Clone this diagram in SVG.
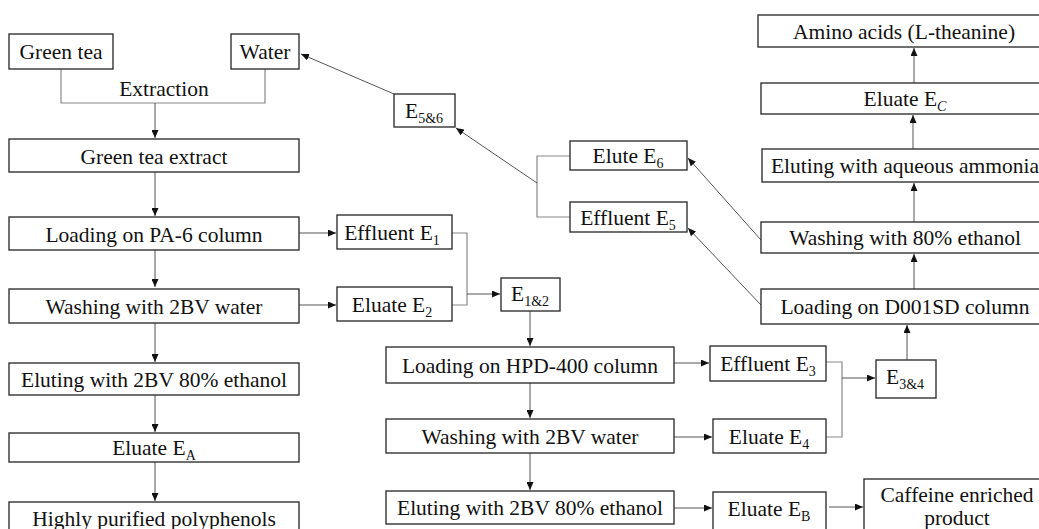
<svg xmlns="http://www.w3.org/2000/svg" width="1039" height="529" viewBox="0 0 1039 529">
<defs>
<marker id="ah" markerUnits="userSpaceOnUse" markerWidth="9" markerHeight="7" refX="8" refY="3.5" orient="auto">
<path d="M0,0 L8,3.5 L0,7 Z" fill="#111"/>
</marker>
</defs>
<style>
.box{fill:#fff;stroke:#333;stroke-width:1.4}
.t{font-family:"Liberation Serif","Times New Roman",serif;font-size:21.5px;fill:#111;text-anchor:middle}
.s{font-size:14px}
.c{fill:none;stroke:#888;stroke-width:1.2}
.a{fill:none;stroke:#555;stroke-width:1;marker-end:url(#ah)}
</style>
<rect width="1039" height="529" fill="#fff"/>
<g id="connectors">
<polyline class="c" points="61,69 61,103 265,103 265,69"/>
<line class="a" x1="155" y1="103" x2="155" y2="138"/>
<line class="a" x1="155" y1="172" x2="155" y2="216"/>
<line class="a" x1="155" y1="250" x2="155" y2="287"/>
<line class="a" x1="155" y1="323" x2="155" y2="362"/>
<line class="a" x1="155" y1="395" x2="155" y2="432"/>
<line class="a" x1="155" y1="462" x2="155" y2="501"/>
<line class="a" x1="299" y1="233" x2="336" y2="233"/>
<line class="a" x1="299" y1="305" x2="336" y2="305"/>
<polyline class="c" points="452,233 467,233 467,305 452,305"/>
<line class="a" x1="467" y1="294" x2="500" y2="294"/>
<line class="a" x1="530" y1="311" x2="530" y2="346"/>
<line class="a" x1="530" y1="383" x2="530" y2="418"/>
<line class="a" x1="530" y1="453" x2="530" y2="490"/>
<line class="a" x1="674" y1="363" x2="709" y2="363"/>
<line class="a" x1="674" y1="437" x2="712" y2="437"/>
<line class="a" x1="674" y1="508" x2="712" y2="508"/>
<polyline class="c" points="826,362 842,362 842,437 826,437"/>
<line class="a" x1="842" y1="378" x2="875" y2="378"/>
<line class="a" x1="907" y1="360" x2="907" y2="325"/>
<line class="a" x1="914" y1="289" x2="914" y2="254"/>
<line class="a" x1="914" y1="222" x2="914" y2="183"/>
<line class="a" x1="913" y1="149" x2="913" y2="115"/>
<line class="a" x1="914" y1="83" x2="914" y2="48"/>
<line class="a" x1="829" y1="507" x2="863" y2="507"/>
<line class="a" x1="761" y1="240" x2="688" y2="158"/>
<line class="a" x1="761" y1="305" x2="688" y2="228"/>
<polyline class="c" points="570,156 537,156 537,217 570,217"/>
<line class="a" x1="537" y1="183" x2="456" y2="128"/>
<line class="a" x1="394" y1="94" x2="301" y2="54"/>
</g>
<g id="n-greentea"><rect class="box" x="9" y="34" width="104" height="35"/><text class="t" x="61" y="59">Green tea</text></g>
<g id="n-water"><rect class="box" x="231" y="34" width="68" height="35"/><text class="t" x="265" y="59">Water</text></g>
<g id="n-extraction"><text class="t" x="164" y="96">Extraction</text></g>
<g id="n-extract"><rect class="box" x="9" y="139" width="290" height="33"/><text class="t" x="154" y="164">Green tea extract</text></g>
<g id="n-pa6"><rect class="box" x="9" y="217" width="290" height="33"/><text class="t" x="154" y="242">Loading on PA-6 column</text></g>
<g id="n-wash1"><rect class="box" x="9" y="289" width="290" height="34"/><text class="t" x="154" y="314">Washing with 2BV water</text></g>
<g id="n-elute1"><rect class="box" x="9" y="363" width="290" height="32"/><text class="t" x="154" y="387">Eluting with 2BV 80% ethanol</text></g>
<g id="n-ea"><rect class="box" x="9" y="433" width="290" height="29"/><text class="t" x="154" y="455">Eluate E<tspan class="s" dy="5">A</tspan></text></g>
<g id="n-poly"><rect class="box" x="9" y="502" width="290" height="40"/><text class="t" x="154" y="526">Highly purified polyphenols</text></g>
<g id="n-e1"><rect class="box" x="337" y="215" width="115" height="34"/><text class="t" x="392" y="240">Effluent E<tspan class="s" dy="5">1</tspan></text></g>
<g id="n-e2"><rect class="box" x="337" y="287" width="115" height="34"/><text class="t" x="392" y="312">Eluate E<tspan class="s" dy="5">2</tspan></text></g>
<g id="n-e12"><rect class="box" x="501" y="278" width="59" height="33"/><text class="t" x="530" y="301">E<tspan class="s" dy="5">1&amp;2</tspan></text></g>
<g id="n-hpd"><rect class="box" x="386" y="347" width="288" height="36"/><text class="t" x="530" y="373">Loading on HPD-400 column</text></g>
<g id="n-wash2"><rect class="box" x="386" y="419" width="288" height="34"/><text class="t" x="530" y="444">Washing with 2BV water</text></g>
<g id="n-elute2"><rect class="box" x="386" y="491" width="288" height="33"/><text class="t" x="530" y="515">Eluting with 2BV 80% ethanol</text></g>
<g id="n-e3"><rect class="box" x="710" y="346" width="116" height="35"/><text class="t" x="768" y="371">Effluent E<tspan class="s" dy="5">3</tspan></text></g>
<g id="n-e4"><rect class="box" x="713" y="419" width="113" height="34"/><text class="t" x="769" y="444">Eluate E<tspan class="s" dy="5">4</tspan></text></g>
<g id="n-eb"><rect class="box" x="713" y="492" width="113" height="45"/><text class="t" x="769" y="516">Eluate E<tspan class="s" dy="5">B</tspan></text></g>
<g id="n-caffeine"><rect class="box" x="864" y="479" width="190" height="70"/><text class="t" x="957" y="502">Caffeine enriched</text><text class="t" x="957" y="525">product</text></g>
<g id="n-e34"><rect class="box" x="876" y="360" width="60" height="38"/><text class="t" x="905" y="384">E<tspan class="s" dy="5">3&amp;4</tspan></text></g>
<g id="n-d001"><rect class="box" x="761" y="289" width="290" height="35"/><text class="t" x="905" y="314">Loading on D001SD column</text></g>
<g id="n-wash80"><rect class="box" x="761" y="222" width="290" height="31"/><text class="t" x="905" y="245">Washing with 80% ethanol</text></g>
<g id="n-ammonia"><rect class="box" x="762" y="149" width="290" height="33"/><text class="t" x="905" y="173">Eluting with aqueous ammonia</text></g>
<g id="n-ec"><rect class="box" x="761" y="83" width="290" height="31"/><text class="t" x="905" y="106">Eluate E<tspan class="s" dy="5" font-style="italic">C</tspan></text></g>
<g id="n-amino"><rect class="box" x="758" y="15" width="293" height="32"/><text class="t" x="904" y="39">Amino acids (L-theanine)</text></g>
<g id="n-e6"><rect class="box" x="570" y="141" width="117" height="29"/><text class="t" x="628" y="163">Elute E<tspan class="s" dy="5">6</tspan></text></g>
<g id="n-e5"><rect class="box" x="570" y="202" width="117" height="30"/><text class="t" x="628" y="225">Effluent E<tspan class="s" dy="5">5</tspan></text></g>
<g id="n-e56"><rect class="box" x="394" y="94" width="61" height="33"/><text class="t" x="424" y="118">E<tspan class="s" dy="5">5&amp;6</tspan></text></g>
</svg>
